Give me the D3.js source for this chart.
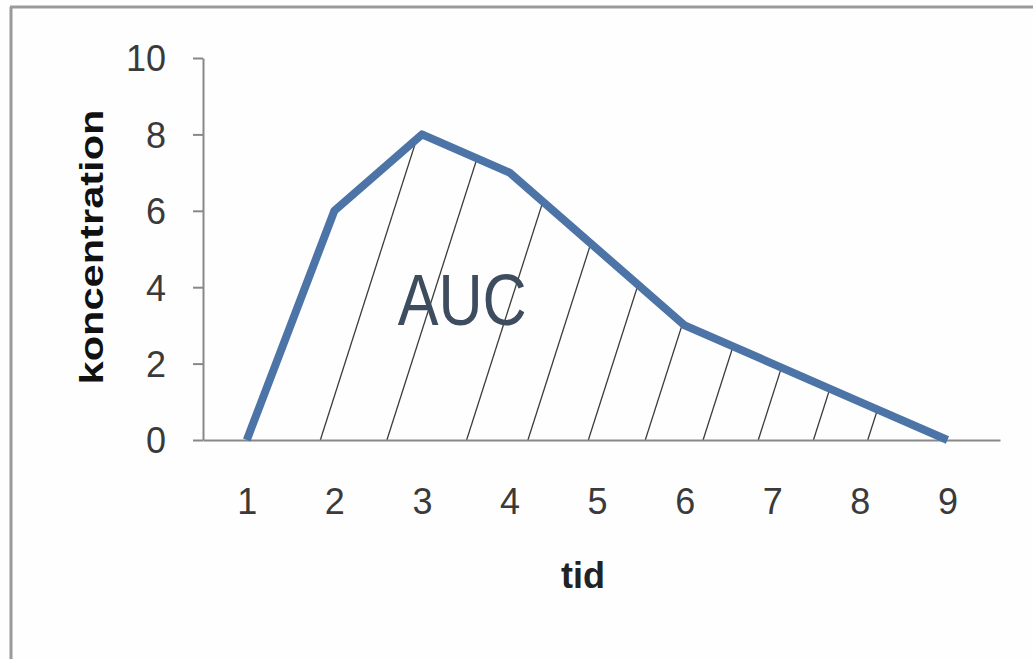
<!DOCTYPE html>
<html>
<head>
<meta charset="utf-8">
<script src="https://cdn.jsdelivr.net/npm/d3@7"></script>
<style>
  body { margin: 0; background: #fefefe; }
  svg { display: block; }
</style>
</head>
<body>
<svg width="1033" height="659"></svg>
<script>
// data
var tid = [1, 2, 3, 4, 5, 6, 7, 8, 9];
var koncentration = [0, 6, 8, 7, 5, 3, 2, 1, 0];
var yTicks = [0, 2, 4, 6, 8, 10];
// where the hatch lines start on the x axis (in tid units)
var hatchStarts = [1.84, 2.6, 3.51, 4.21, 4.9, 5.55, 6.21, 6.84, 7.47, 8.09];

var svg = d3.select("svg");
var data = tid.map(function(t, i) { return { x: t, y: koncentration[i] }; });

var x = d3.scaleLinear().domain([0.5, 9.6]).range([203, 1000]);
var y = d3.scaleLinear().domain([0, 10]).range([440, 58]);

// frame (top + left only)
svg.append("line").attr("x1", 10).attr("x2", 1033).attr("y1", 7).attr("y2", 7)
  .attr("stroke", "#9a9a9a").attr("stroke-width", 3);
svg.append("line").attr("x1", 11).attr("x2", 11).attr("y1", 7).attr("y2", 659)
  .attr("stroke", "#9a9a9a").attr("stroke-width", 3);

// hatching under the curve
var area = d3.area().x(function(d) { return x(d.x); }).y0(y(0)).y1(function(d) { return y(d.y); });
svg.append("clipPath").attr("id", "auc")
  .append("path").attr("d", area(data));

var slope = 0.32;
svg.append("g").attr("clip-path", "url(#auc)")
  .selectAll("line")
  .data(hatchStarts)
  .enter()
  .append("line")
  .attr("x1", function(d) { return x(d); })
  .attr("y1", y(0))
  .attr("x2", function(d) { return x(d) + slope * (y(0) - y(10)); })
  .attr("y2", y(10))
  .attr("stroke", "#3c3c3c")
  .attr("stroke-width", 1.3);

// axes
var yAxis = d3.axisLeft(y).tickValues(yTicks).tickSize(10).tickPadding(27).tickSizeOuter(0);
var gy = svg.append("g").attr("transform", "translate(203,0)").call(yAxis);
gy.select(".domain").attr("stroke", "#888").attr("stroke-width", 2);
gy.selectAll(".tick line").attr("stroke", "#888").attr("stroke-width", 2);
gy.selectAll(".tick text")
  .attr("font-family", "Liberation Sans, Arial, sans-serif")
  .attr("font-size", 36).attr("fill", "#3a3a3a").attr("dy", "0.36em");

var xAxis = d3.axisBottom(x).tickValues(tid).tickSize(0).tickPadding(48).tickSizeOuter(0);
var gx = svg.append("g").attr("transform", "translate(0," + y(0) + ")").call(xAxis);
gx.select(".domain").attr("stroke", "#888").attr("stroke-width", 2);
gx.selectAll(".tick text")
  .attr("font-family", "Liberation Sans, Arial, sans-serif")
  .attr("font-size", 36).attr("fill", "#3a3a3a");

// line
var line = d3.line().x(function(d) { return x(d.x); }).y(function(d) { return y(d.y); });
svg.append("path")
  .attr("d", line(data))
  .attr("fill", "none")
  .attr("stroke", "#4d74a6")
  .attr("stroke-width", 8)
  .attr("stroke-linejoin", "round");

// AUC label
svg.append("text")
  .attr("x", x(3.46)).attr("y", y(3.0))
  .attr("text-anchor", "middle")
  .attr("font-family", "Liberation Sans, Arial, sans-serif")
  .attr("font-size", 72)
  .attr("textLength", 129).attr("lengthAdjust", "spacingAndGlyphs")
  .attr("fill", "#3d4c5e")
  .text("AUC");

// axis titles
svg.append("text")
  .attr("x", 583).attr("y", 588)
  .attr("text-anchor", "middle")
  .attr("font-family", "Liberation Sans, Arial, sans-serif")
  .attr("font-size", 36).attr("font-weight", "bold")
  .attr("fill", "#222")
  .text("tid");

svg.append("text")
  .attr("transform", "translate(103,247) rotate(-90)")
  .attr("text-anchor", "middle")
  .attr("font-family", "Liberation Sans, Arial, sans-serif")
  .attr("font-size", 34).attr("font-weight", "bold")
  .attr("textLength", 275).attr("lengthAdjust", "spacingAndGlyphs")
  .attr("fill", "#111")
  .text("koncentration");
</script>
</body>
</html>
